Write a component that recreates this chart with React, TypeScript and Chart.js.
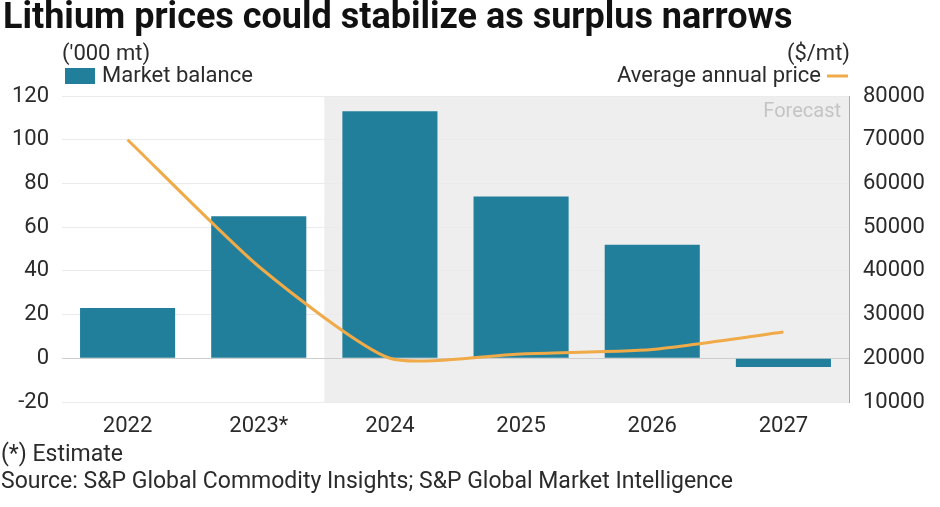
import React, { useEffect, useRef } from "react";
import { Chart, registerables } from "chart.js";

Chart.register(...registerables);

const categories = ["2022", "2023*", "2024", "2025", "2026", "2027"];
const marketBalance = [23, 65, 113, 74, 52, -4];
const avgPrice = [70000, 41000, 20000, 21000, 22000, 26000];
const leftTicks = [-20, 0, 20, 40, 60, 80, 100, 120];
const rightTicks = [10000, 20000, 30000, 40000, 50000, 60000, 70000, 80000];
const forecastStartIndex = 2;

const FONT = "Roboto, 'Noto Sans', sans-serif";
const TEXT = "#2b2b2b";
const BAR = "#217f9b";
const LINE = "#f0aa48";

const decorPlugin = {
  id: "decor",
  beforeDraw(chart: any) {
    const { ctx, chartArea, scales } = chart;
    const x = scales.x;
    const start = (x.getPixelForValue(forecastStartIndex - 1) + x.getPixelForValue(forecastStartIndex)) / 2;
    ctx.save();
    ctx.fillStyle = "#eeeeee";
    ctx.fillRect(start, chartArea.top, chartArea.right - start, chartArea.bottom - chartArea.top);
    ctx.fillStyle = "#c4c4c4";
    ctx.font = `20px ${FONT}`;
    ctx.textAlign = "right";
    ctx.textBaseline = "middle";
    ctx.fillText("Forecast", chartArea.right - 8, chartArea.top + 16);
    ctx.restore();
  },
  afterDraw(chart: any) {
    const { ctx, chartArea } = chart;
    ctx.save();
    ctx.fillStyle = "#111";
    ctx.font = `bold 36px ${FONT}`;
    ctx.textBaseline = "middle";
    ctx.textAlign = "left";
    ctx.fillText("Lithium prices could stabilize as surplus narrows", 3, 19);

    ctx.fillStyle = TEXT;
    ctx.font = `22px ${FONT}`;
    ctx.fillText("('000 mt)", chartArea.left, 54);
    ctx.fillStyle = BAR;
    ctx.fillRect(65, 68, 30, 16);
    ctx.fillStyle = TEXT;
    ctx.fillText("Market balance", 102, 76);

    ctx.textAlign = "right";
    ctx.fillText("($/mt)", chartArea.right + 1, 54);
    ctx.fillText("Average annual price", 821, 76);
    ctx.strokeStyle = LINE;
    ctx.lineWidth = 3;
    ctx.beginPath();
    ctx.moveTo(827, 76);
    ctx.lineTo(848, 76);
    ctx.stroke();

    ctx.textAlign = "left";
    ctx.fillStyle = TEXT;
    ctx.font = `23px ${FONT}`;
    ctx.fillText("(*) Estimate", 1, 455);
    ctx.fillText("Source: S&P Global Commodity Insights; S&P Global Market Intelligence", 1, 482);
    ctx.restore();
  },
};

export default function App() {
  const ref = useRef<HTMLCanvasElement | null>(null);
  useEffect(() => {
    document.body.style.margin = "0";
    const chart = new Chart(ref.current as HTMLCanvasElement, {
      type: "bar",
      data: {
        labels: categories,
        datasets: [
          {
            type: "line",
            label: "Average annual price",
            data: avgPrice,
            yAxisID: "y1",
            borderColor: LINE,
            borderWidth: 3,
            pointRadius: 0,
            tension: 0.2,
            order: 0,
          } as any,
          {
            type: "bar",
            label: "Market balance",
            data: marketBalance,
            yAxisID: "y",
            backgroundColor: BAR,
            barPercentage: 0.725,
            categoryPercentage: 1,
            order: 1,
          },
        ],
      },
      options: {
        animation: false,
        responsive: false,
        maintainAspectRatio: false,
        layout: { padding: { top: 96, left: 0, right: 0, bottom: 0 } },
        plugins: { legend: { display: false }, tooltip: { enabled: false }, title: { display: false } },
        scales: {
          x: {
            grid: { display: false, drawTicks: false },
            border: { display: false },
            ticks: { color: TEXT, font: { family: FONT, size: 22 }, padding: 11 },
            afterFit: (s: any) => { s.height = 105; },
          },
          y: {
            position: "left",
            min: -20,
            max: 120,
            afterBuildTicks: (s: any) => { s.ticks = leftTicks.map((v) => ({ value: v })); },
            grid: {
              drawTicks: false,
              color: (c: any) => (c.tick && c.tick.value === 0 ? "#cdcdcd" : "#ebebeb"),
              lineWidth: 1,
            },
            border: { display: false },
            ticks: { color: TEXT, font: { family: FONT, size: 22 }, padding: 13 },
            afterFit: (s: any) => { s.width = 62; },
          },
          y1: {
            position: "right",
            min: 10000,
            max: 80000,
            afterBuildTicks: (s: any) => { s.ticks = rightTicks.map((v) => ({ value: v })); },
            grid: { display: false, drawTicks: false },
            border: { display: true, color: "#aaaaaa", width: 1 },
            ticks: {
              color: TEXT,
              font: { family: FONT, size: 22 },
              padding: 14,
              callback: (v: any) => String(v),
            },
            afterFit: (s: any) => { s.width = 91; },
          },
        },
      },
      plugins: [decorPlugin],
    });
    return () => chart.destroy();
  }, []);
  return (
    <div style={{ position: "absolute", left: 0, top: 0, width: 940, height: 507, background: "#fff" }}>
      <canvas ref={ref} width={940} height={507} style={{ width: 940, height: 507, display: "block" }} />
    </div>
  );
}
